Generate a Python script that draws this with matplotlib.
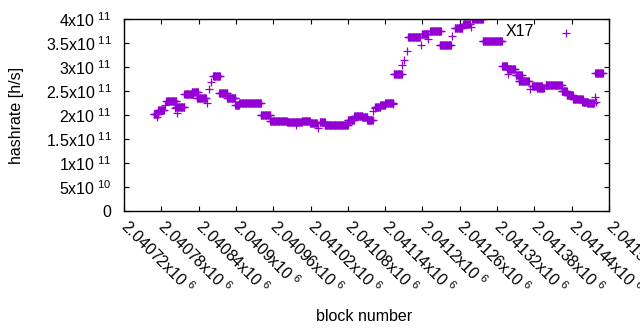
import numpy as np
import matplotlib
matplotlib.use("Agg")
import matplotlib.pyplot as plt

plt.rcParams['font.family'] = ['Liberation Sans', 'DejaVu Sans']
plt.rcParams['mathtext.fontset'] = 'custom'
plt.rcParams['mathtext.rm'] = 'Liberation Sans'

# runs of consecutive blocks that share one hashrate value (x1e11 h/s)
run_start = [2040768, 2040775, 2040788, 2040804, 2040817, 2040829, 2040837,
             2040863, 2040873, 2040886, 2040899, 2040905, 2040940, 2040955,
             2040982, 2041006, 2041019, 2041035, 2041043, 2041080, 2041090,
             2041103, 2041111, 2041124, 2041132, 2041140, 2041154, 2041177,
             2041199, 2041212, 2041228, 2041252, 2041265, 2041280, 2041297,
             2041328, 2041336, 2041350, 2041355, 2041376, 2041385, 2041398,
             2041424, 2041432, 2041442, 2041457, 2041465, 2041478]
run_end = [2040775, 2040784, 2040804, 2040817, 2040831, 2040839, 2040852,
           2040874, 2040886, 2040899, 2040905, 2040940, 2040955, 2040982,
           2041006, 2041019, 2041030, 2041043, 2041080, 2041090, 2041103,
           2041111, 2041120, 2041132, 2041140, 2041153, 2041167, 2041196,
           2041209, 2041230, 2041246, 2041264, 2041276, 2041297, 2041328,
           2041336, 2041349, 2041360, 2041371, 2041392, 2041395, 2041424,
           2041432, 2041442, 2041458, 2041466, 2041476, 2041490]
run_value = [2.02, 2.10, 2.29, 2.17, 2.43, 2.48, 2.35,
             2.82, 2.45, 2.35, 2.21, 2.24, 2.01, 1.88,
             1.85, 1.87, 1.83, 1.86, 1.79, 1.90, 1.98,
             1.95, 1.89, 2.17, 2.21, 2.26, 2.86, 3.62,
             3.69, 3.74, 3.45, 3.81, 3.90, 3.99, 3.54,
             3.02, 2.96, 2.83, 2.70, 2.60, 2.56, 2.62,
             2.51, 2.41, 2.33, 2.27, 2.24, 2.88]

# isolated blocks
single_block = [2040773, 2040786, 2040802, 2040806, 2040854, 2040857, 2040860,
                2040996, 2041032, 2041120, 2041123, 2041153, 2041167, 2041170,
                2041175, 2041198, 2041209, 2041247, 2041278, 2041337, 2041373,
                2041431, 2041478, 2041479]
single_value = [1.96, 2.21, 2.14, 2.05, 2.26, 2.54, 2.68,
                1.79, 1.73, 2.08, 2.15, 2.23, 3.05, 3.14,
                3.33, 3.45, 3.58, 3.65, 3.83, 2.86, 2.54,
                3.71, 2.37, 2.28]

xticks = list(range(2040720, 2041501, 60))
xtick_labels = ['2.04072', '2.04078', '2.04084', '2.0409', '2.04096', '2.04102',
                '2.04108', '2.04114', '2.0412', '2.04126', '2.04132', '2.04138',
                '2.04144', '2.0415']
yticks = [0, 0.5e11, 1e11, 1.5e11, 2e11, 2.5e11, 3e11, 3.5e11, 4e11]
ytick_labels = ['0', r'$\mathregular{5x10^{\ 10}}$', r'$\mathregular{1x10^{\ 11}}$',
                r'$\mathregular{1.5x10^{\ 11}}$', r'$\mathregular{2x10^{\ 11}}$',
                r'$\mathregular{2.5x10^{\ 11}}$', r'$\mathregular{3x10^{\ 11}}$',
                r'$\mathregular{3.5x10^{\ 11}}$', r'$\mathregular{4x10^{\ 11}}$']

blocks = []
values = []
for s, e, v in zip(run_start, run_end, run_value):
    for b in range(s, e + 1):
        blocks.append(b)
        values.append(v)
blocks += single_block
values += single_value
values = np.array(values) * 1e11

fig = plt.figure(figsize=(6.4, 3.3), dpi=100)
ax = fig.add_axes([124 / 640, 1 - 211 / 330, 485 / 640, 192 / 330])

ax.plot(blocks, values, linestyle='none', marker='+', color='#9400d3',
        markersize=5.4, markeredgewidth=0.9)

ax.set_xlim(2040720, 2041500)
ax.set_ylim(0, 4e11)
ax.set_xticks(xticks)
ax.set_xticklabels([r'$\mathregular{%sx10^{\ 6}}$' % t for t in xtick_labels],
                   rotation=-45, rotation_mode='anchor', ha='left', va='center')
ax.set_yticks(yticks)
ax.set_yticklabels(ytick_labels)
ax.tick_params(direction='in', length=3.5, width=0.8, top=True, right=True,
               labelsize=11.5, colors='#000000')
ax.tick_params(axis='x', pad=9)
ax.tick_params(axis='y', pad=9)
for sp in ax.spines.values():
    sp.set_linewidth(1.0)

ax.text(2041333, 3.73e11, 'X17', fontsize=11.5, ha='left', va='center')
ax.set_xlabel('block number', fontsize=11.5)
ax.set_ylabel('hashrate [h/s]', fontsize=11.5)
ax.xaxis.set_label_coords(0.495, -0.51)
ax.yaxis.set_label_coords(-0.207, 0.5)

fig.savefig('out.png', dpi=100)
